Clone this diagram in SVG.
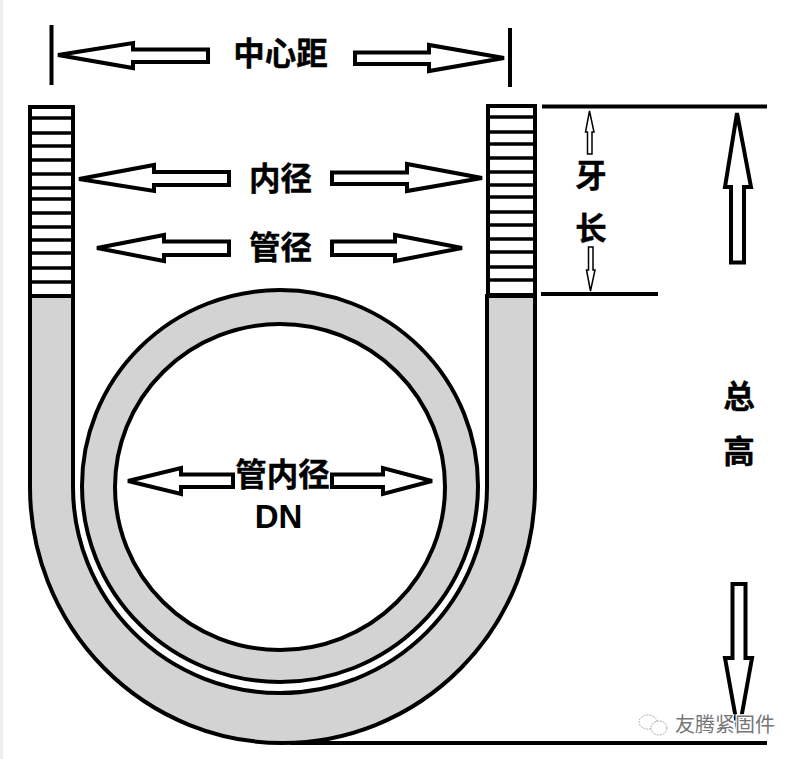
<svg xmlns="http://www.w3.org/2000/svg" width="800" height="759" viewBox="0 0 800 759">
<style>
.l{fill:none;stroke:#000;stroke-width:4}
.th{fill:none;stroke:#000;stroke-width:3.500}
.a{fill:#fff;stroke:#000;stroke-width:4;stroke-linejoin:miter;stroke-miterlimit:3}
.thin{fill:#fff;stroke:#000;stroke-width:1.500}
.t{font-family:"Noto Sans CJK SC","Liberation Sans",sans-serif;font-weight:700;font-size:31.500px;text-anchor:middle;fill:#000;stroke:#000;stroke-width:.4}
.dn{font-family:"Liberation Sans",sans-serif;font-weight:700;font-size:33px;text-anchor:middle;fill:#000}
.wm{font-family:"Noto Sans CJK SC",sans-serif;font-size:20px;text-anchor:middle;fill:#777;stroke:#fff;stroke-width:2.500;paint-order:stroke}
.ic{fill:#fff;stroke:#aaa;stroke-width:1;stroke-dasharray:2 1}
</style>
<rect width="800" height="759" fill="#fff"/>
<rect x="0" y="0" width="3" height="759" fill="#eee"/>
<g id="ubolt">
<path d="M30 296H73V487A207 206 0 0 0 487 487V296H535V487A252.500 256 0 0 1 30 487Z" fill="#d3d3d3" stroke="#000" stroke-width="4"/>
</g>
<g id="pipe">
<ellipse cx="280" cy="486" rx="198" ry="196" fill="#d3d3d3" stroke="#000" stroke-width="4"/>
<ellipse cx="280" cy="487" rx="165" ry="163" fill="#fff" stroke="#000" stroke-width="4"/>
</g>
<g id="thread-left">
<rect x="30" y="107" width="43" height="189" fill="#fff" stroke="#000" stroke-width="4"/>
<path class="th" d="M30 118H73M30 133H73M30 146H73M30 160H73M30 174H73M30 188H73M30 199H73M30 213H73M30 227H73M30 240H73M30 253H73M30 268H73M30 282H73"/>
</g>
<g id="thread-right">
<rect x="488" y="106" width="47" height="189" fill="#fff" stroke="#000" stroke-width="4"/>
<path class="th" d="M488 117H535M488 132H535M488 144H535M488 158H535M488 172H535M488 185H535M488 197H535M488 212H535M488 225H535M488 239H535M488 252H535M488 267H535M488 280H535"/>
</g>
<g id="connectors">
<path class="l" d="M51.500 25V85M510 28V87"/>
<path class="l" d="M542 106.500H767M541 294H658M290 743H767"/>
<path class="a" d="M58 55L133 43V49.500H208V62H133V68Z"/>
<path class="a" d="M504 58L429 45V52.500H355V64H429V71Z"/>
<path class="a" d="M79 179L154 165V172H229V185H154V191Z"/>
<path class="a" d="M482 178L407 164V172.500H332V184H407V191Z"/>
<path class="a" d="M97 248L164 235V241.500H229V255H164V261Z"/>
<path class="a" d="M462 248L395 235V241.500H332V255H395V261Z"/>
<path class="a" d="M128 481L181 468V474.500H233V487H181V494Z"/>
<path class="a" d="M432 481L383 468V474.500H332V487H383V494Z"/>
<path class="a" d="M737 113L725 187H731V262.500H744V187H751Z"/>
<path class="a" d="M738.500 733L725 658H732.500V584H745.500V658H752Z"/>
<path class="thin" d="M589.500 111L585.500 132H587.500V154H592V132H594Z"/>
<path class="thin" d="M590.500 291L586.500 270H588.500V247H593V270H595Z"/>
</g>
<g id="labels">
<text class="t" x="280.500" y="65">中心距</text>
<text class="t" x="280.500" y="190">内径</text>
<text class="t" x="280.500" y="259">管径</text>
<text class="t" x="282.500" y="486">管内径</text>
<text class="dn" x="278.500" y="528">DN</text>
<text class="t" x="591" y="187">牙</text>
<text class="t" x="591" y="240">长</text>
<text class="t" x="739" y="408">总</text>
<text class="t" x="739" y="463">高</text>
</g>
<g id="watermark">
<ellipse class="ic" cx="648" cy="722" rx="9" ry="7"/>
<ellipse class="ic" cx="659" cy="728" rx="8" ry="7"/>
<text class="wm" x="725" y="732">友腾紧固件</text>
</g>
</svg>
